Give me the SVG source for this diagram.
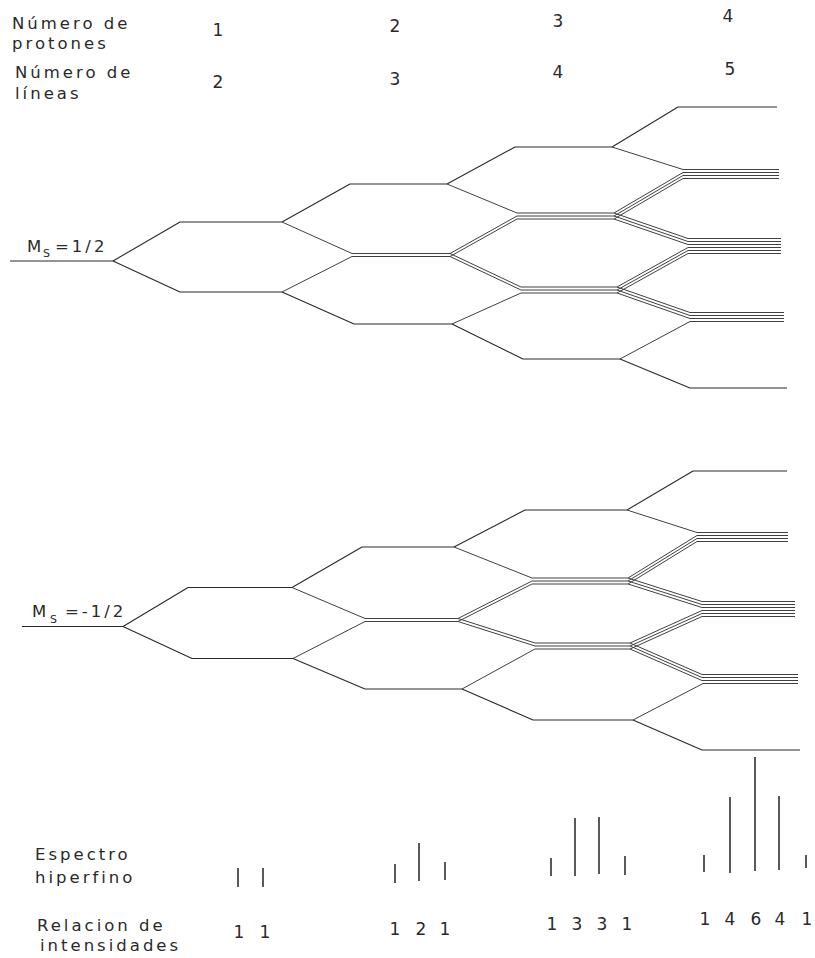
<svg xmlns="http://www.w3.org/2000/svg" width="815" height="958" viewBox="0 0 815 958">
<style>
.lv{fill:none;stroke:#2a2a2a;stroke-width:1.1;stroke-linejoin:round}
.lv .b{stroke:#404040;stroke-width:1}
.pk{stroke:#222;stroke-width:1.5}
.t{font-family:"DejaVu Sans",sans-serif;font-size:16.5px;fill:#2a2a2a;letter-spacing:3px}
.n{font-family:"DejaVu Sans",sans-serif;font-size:17px;fill:#2a2a2a;text-anchor:middle}
.sub{font-size:11px;letter-spacing:0}
</style>
<rect width="815" height="958" fill="#fff"/>
<g id="header">
<text class="t" x="12" y="29">Número de</text>
<text class="t" x="12" y="49">protones</text>
<text class="t" x="15" y="78">Número de</text>
<text class="t" x="15" y="99">líneas</text>
<text class="n" x="218" y="36">1</text>
<text class="n" x="395" y="32">2</text>
<text class="n" x="558" y="27">3</text>
<text class="n" x="728" y="22">4</text>
<text class="n" x="218" y="88">2</text>
<text class="n" x="395" y="85">3</text>
<text class="n" x="558" y="78">4</text>
<text class="n" x="730" y="75">5</text>
</g>
<g id="upper-tree">
<text class="t" x="27" y="252" style="letter-spacing:0">M</text>
<text class="t sub" x="43" y="257">S</text>
<text class="t" x="55" y="252">=1/2</text>
<g class="lv">
<polyline points="10,261 113,261"/>
<polyline points="113,261 180,222 282,222"/>
<polyline points="113,261 180,292 282,292"/>
<polyline points="282,222 350,184 447,184"/>
<polyline class="b" points="282,222 352,253.5 450,253.5"/>
<polyline class="b" points="282,292 352,256.5 450,256.5"/>
<polyline points="282,292 354,324 452,324"/>
<polyline points="447,184 515,147 612,147"/>
<polyline class="b" points="447,184 517,213 614,213"/>
<polyline class="b" points="450,253.5 517,216 614,216"/>
<polyline class="b" points="450,256.5 517,219 614,219"/>
<polyline class="b" points="450,253.5 521,287 617,287"/>
<polyline class="b" points="450,256.5 521,290 617,290"/>
<polyline class="b" points="452,324 521,293 617,293"/>
<polyline points="452,324 523,359 620,359"/>
<polyline points="612,147 678,107 777,107"/>
<polyline class="b" points="612,147 683,169.5 779,169.5"/>
<polyline class="b" points="614,213 683,172.5 779,172.5"/>
<polyline class="b" points="614,216 683,175.5 779,175.5"/>
<polyline class="b" points="614,219 683,178.5 779,178.5"/>
<polyline class="b" points="614,213 688,238.5 781,238.5"/>
<polyline class="b" points="614,216 688,241.5 781,241.5"/>
<polyline class="b" points="614,219 688,244.5 781,244.5"/>
<polyline class="b" points="617,287 688,247.5 781,247.5"/>
<polyline class="b" points="617,290 688,250.5 781,250.5"/>
<polyline class="b" points="617,293 688,253.5 781,253.5"/>
<polyline class="b" points="617,287 690,312.5 784,312.5"/>
<polyline class="b" points="617,290 690,315.5 784,315.5"/>
<polyline class="b" points="617,293 690,318.5 784,318.5"/>
<polyline class="b" points="620,359 690,321.5 784,321.5"/>
<polyline points="620,359 690,388 787,388"/>
</g>
</g>
<g id="lower-tree">
<text class="t" x="32" y="617" style="letter-spacing:0">M</text>
<text class="t sub" x="50" y="623">S</text>
<text class="t" x="65" y="617">=-1/2</text>
<g class="lv">
<polyline points="22,626.5 123,626.5"/>
<polyline points="123,626.5 188,587.5 292,587.5"/>
<polyline points="123,626.5 192,658.5 293,658.5"/>
<polyline points="292,587.5 362,547 454,547"/>
<polyline class="b" points="292,587.5 365,618.5 458,618.5"/>
<polyline class="b" points="293,658.5 365,621.5 458,621.5"/>
<polyline points="293,658.5 365,689 462,689"/>
<polyline points="454,547 525,510 627,510"/>
<polyline class="b" points="454,547 532,578 628,578"/>
<polyline class="b" points="458,618.5 532,581 628,581"/>
<polyline class="b" points="458,621.5 532,584 628,584"/>
<polyline class="b" points="458,618.5 535,643 630,643"/>
<polyline class="b" points="458,621.5 535,646 630,646"/>
<polyline class="b" points="462,689 535,649 630,649"/>
<polyline points="462,689 533,720 633,720"/>
<polyline points="627,510 693,471 787,471"/>
<polyline class="b" points="627,510 697,532.5 788,532.5"/>
<polyline class="b" points="628,578 697,535.5 788,535.5"/>
<polyline class="b" points="628,581 697,538.5 788,538.5"/>
<polyline class="b" points="628,584 697,541.5 788,541.5"/>
<polyline class="b" points="628,578 702,601.5 795,601.5"/>
<polyline class="b" points="628,581 702,604.5 795,604.5"/>
<polyline class="b" points="628,584 702,607.5 795,607.5"/>
<polyline class="b" points="630,643 702,610.5 795,610.5"/>
<polyline class="b" points="630,646 702,613.5 795,613.5"/>
<polyline class="b" points="630,649 702,616.5 795,616.5"/>
<polyline class="b" points="630,643 702,674.5 798,674.5"/>
<polyline class="b" points="630,646 702,677.5 798,677.5"/>
<polyline class="b" points="630,649 702,680.5 798,680.5"/>
<polyline class="b" points="633,720 703,683.5 798,683.5"/>
<polyline points="633,720 702,750 800,750"/>
</g>
</g>
<g id="spectrum">
<text class="t" x="35" y="860">Espectro</text>
<text class="t" x="35" y="883">hiperfino</text>
<g class="pk">
<line x1="238" y1="868" x2="238" y2="887"/>
<line x1="263" y1="868" x2="263" y2="887"/>
<line x1="395" y1="864" x2="395" y2="883"/>
<line x1="419" y1="843" x2="419" y2="881"/>
<line x1="445" y1="862" x2="445" y2="880"/>
<line x1="551" y1="858" x2="551" y2="876"/>
<line x1="575" y1="818" x2="575" y2="876"/>
<line x1="599" y1="817" x2="599" y2="874"/>
<line x1="625" y1="856" x2="625" y2="875"/>
<line x1="704" y1="855" x2="704" y2="872"/>
<line x1="730" y1="797" x2="730" y2="873"/>
<line x1="755" y1="757" x2="755" y2="871"/>
<line x1="779" y1="796" x2="779" y2="870"/>
<line x1="806" y1="855" x2="806" y2="868"/>
</g>
</g>
<g id="intensities">
<text class="t" x="37" y="931">Relacion de</text>
<text class="t" x="40" y="951">intensidades</text>
<text class="n" x="239" y="938">1</text>
<text class="n" x="265" y="938">1</text>
<text class="n" x="395" y="935">1</text>
<text class="n" x="421" y="935">2</text>
<text class="n" x="445" y="935">1</text>
<text class="n" x="552" y="930">1</text>
<text class="n" x="577" y="930">3</text>
<text class="n" x="602" y="930">3</text>
<text class="n" x="627" y="930">1</text>
<text class="n" x="705" y="925">1</text>
<text class="n" x="730" y="925">4</text>
<text class="n" x="756" y="925">6</text>
<text class="n" x="780" y="925">4</text>
<text class="n" x="807" y="925">1</text>
</g>
</svg>
